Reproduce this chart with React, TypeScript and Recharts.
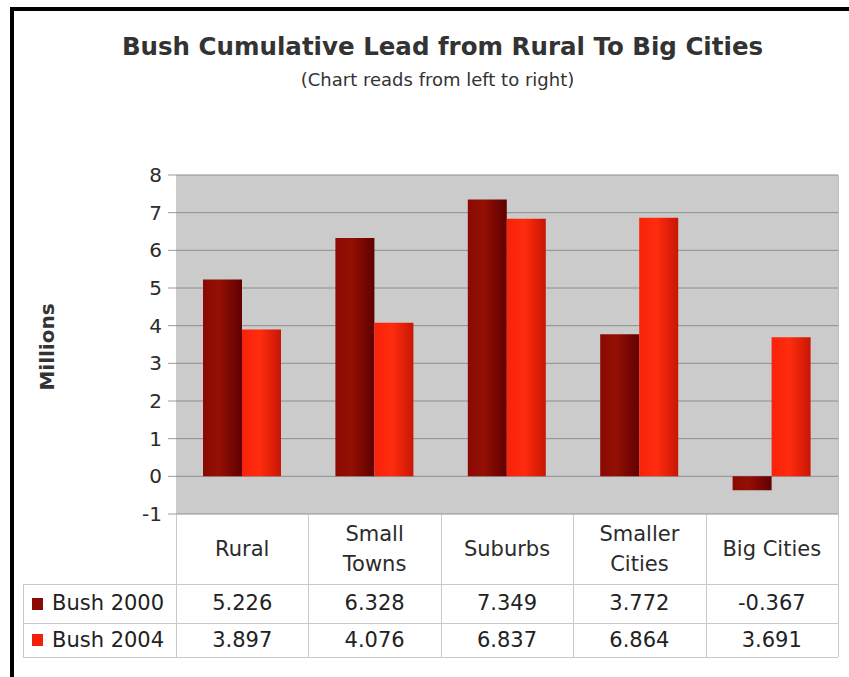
import { BarChart, Bar, XAxis, YAxis, CartesianGrid } from "recharts";

// categories and series values (millions)
const categories = ["Rural", "Small\nTowns", "Suburbs", "Smaller\nCities", "Big Cities"];
const bush2000 = [5.226, 6.328, 7.349, 3.772, -0.367];
const bush2004 = [3.897, 4.076, 6.837, 6.864, 3.691];
const yTicks = [-1, 0, 1, 2, 3, 4, 5, 6, 7, 8];

const seriesNames = ["Bush 2000", "Bush 2004"];
const seriesColors = ["#8b0a05", "#f2200a"];

const W = 849;
const H = 677;
const PLOT_LEFT = 176;
const PLOT_RIGHT = 838;
const PLOT_TOP = 175;
const PLOT_BOTTOM = 514;
const HEADER_H = 70;
const Y_AXIS_W = 60;
const ROW_HS = [39, 34];
const FONT = "'DejaVu Sans', sans-serif";

const data = categories.map((c, i) => ({ cat: c, b2000: bush2000[i], b2004: bush2004[i] }));

function CategoryTick({ x, y, payload }: any) {
  const lines = String(payload.value).split("\n");
  const mid = y + HEADER_H / 2;
  const step = 30;
  const start = mid - ((lines.length - 1) * step) / 2;
  return (
    <g>
      {lines.map((ln, i) => (
        <text
          key={i}
          x={x}
          y={start + i * step}
          textAnchor="middle"
          dominantBaseline="central"
          style={{ fontSize: 21, fill: "#2b2b2b", fontFamily: FONT }}
        >
          {ln}
        </text>
      ))}
    </g>
  );
}

export default function App() {
  const colW = (PLOT_RIGHT - PLOT_LEFT) / categories.length;
  const tableTop = PLOT_BOTTOM + HEADER_H;
  const tableBottom = tableTop + ROW_HS[0] + ROW_HS[1];
  const lineColor = "#c9c9c9";

  return (
    <div
      style={{
        position: "absolute",
        left: 0,
        top: 0,
        width: W,
        height: H,
        background: "#fff",
        fontFamily: FONT,
        color: "#222",
        overflow: "hidden",
      }}
    >
      {/* frame */}
      <div style={{ position: "absolute", left: 10, top: 7, width: W, height: 4, background: "#000" }} />
      <div style={{ position: "absolute", left: 10, top: 7, width: 4, height: H, background: "#000" }} />

      {/* titles */}
      <div
        style={{
          position: "absolute",
          left: 0,
          width: 885,
          top: 32,
          textAlign: "center",
          fontSize: 24.5,
          fontWeight: "bold",
          color: "#333",
          whiteSpace: "nowrap",
        }}
      >
        Bush Cumulative Lead from Rural To Big Cities
      </div>
      <div
        style={{
          position: "absolute",
          left: 0,
          width: 875,
          top: 69,
          textAlign: "center",
          fontSize: 18,
          color: "#333",
          whiteSpace: "nowrap",
        }}
      >
        (Chart reads from left to right)
      </div>

      {/* y axis title */}
      <div
        style={{
          position: "absolute",
          left: 47,
          top: 347,
          transform: "translate(-50%, -50%) rotate(-90deg)",
          fontSize: 20,
          fontWeight: "bold",
          color: "#333",
          whiteSpace: "nowrap",
        }}
      >
        Millions
      </div>

      <div style={{ position: "absolute", left: 0, top: 0 }}>
        <BarChart
          width={W}
          height={H}
          data={data}
          margin={{
            top: PLOT_TOP,
            right: W - PLOT_RIGHT,
            bottom: H - PLOT_BOTTOM - HEADER_H,
            left: PLOT_LEFT - Y_AXIS_W,
          }}
          barSize={39}
          barGap={0}
        >
          <defs>
            <linearGradient id="g2000" x1="0" y1="0" x2="1" y2="0">
              <stop offset="0%" stopColor="#8a0902" />
              <stop offset="40%" stopColor="#941004" />
              <stop offset="100%" stopColor="#600000" />
            </linearGradient>
            <linearGradient id="g2004" x1="0" y1="0" x2="1" y2="0">
              <stop offset="0%" stopColor="#f8220a" />
              <stop offset="45%" stopColor="#ff2c0e" />
              <stop offset="100%" stopColor="#c81604" />
            </linearGradient>
          </defs>
          <CartesianGrid vertical={false} fill="#cbcbcb" stroke="#8e8e8e" strokeWidth={1} />
          <XAxis
            dataKey="cat"
            height={HEADER_H}
            axisLine={false}
            tickLine={false}
            tickSize={0}
            tickMargin={0}
            interval={0}
            tick={<CategoryTick />}
          />
          <YAxis
            width={Y_AXIS_W}
            domain={[-1, 8]}
            ticks={yTicks}
            interval={0}
            axisLine={false}
            tickSize={8}
            tickMargin={6}
            tickLine={{ stroke: "#9a9a9a" }}
            tick={{ fontSize: 20, fill: "#2b2b2b", fontFamily: FONT }}
          />
          <Bar dataKey="b2000" fill="url(#g2000)" isAnimationActive={false} />
          <Bar dataKey="b2004" fill="url(#g2004)" isAnimationActive={false} />
        </BarChart>
      </div>

      {/* data table lines */}
      <div style={{ position: "absolute", left: PLOT_RIGHT, top: PLOT_TOP, width: 1, height: PLOT_BOTTOM - PLOT_TOP, background: "#bdbdbd" }} />
      {categories.map((_, i) => (
        <div
          key={"v" + i}
          style={{ position: "absolute", left: PLOT_LEFT + i * colW, top: PLOT_BOTTOM, width: 1, height: tableBottom - PLOT_BOTTOM, background: lineColor }}
        />
      ))}
      <div style={{ position: "absolute", left: PLOT_RIGHT, top: PLOT_BOTTOM, width: 1, height: tableBottom - PLOT_BOTTOM, background: lineColor }} />
      <div style={{ position: "absolute", left: 23, top: tableTop, width: 1, height: tableBottom - tableTop, background: lineColor }} />
      {[tableTop, tableTop + ROW_HS[0], tableBottom].map((yy, i) => (
        <div key={"h" + i} style={{ position: "absolute", left: 23, top: yy, width: PLOT_RIGHT - 23, height: 1, background: lineColor }} />
      ))}

      {/* data table rows */}
      {[bush2000, bush2004].map((vals, r) => {
        const top = tableTop + (r === 0 ? 0 : ROW_HS[0]);
        const h = ROW_HS[r];
        return (
          <div key={"r" + r}>
            <div
              style={{
                position: "absolute",
                left: 32,
                top: top + h / 2 - 6,
                width: 11,
                height: 12,
                background: seriesColors[r],
              }}
            />
            <div
              style={{
                position: "absolute",
                left: 52,
                top: top,
                height: h,
                lineHeight: h + "px",
                fontSize: 21,
                whiteSpace: "nowrap",
              }}
            >
              {seriesNames[r]}
            </div>
            {vals.map((v, i) => (
              <div
                key={i}
                style={{
                  position: "absolute",
                  left: PLOT_LEFT + i * colW,
                  width: colW,
                  top: top,
                  height: h,
                  lineHeight: h + "px",
                  textAlign: "center",
                  fontSize: 21,
                }}
              >
                {v.toFixed(3)}
              </div>
            ))}
          </div>
        );
      })}
    </div>
  );
}
